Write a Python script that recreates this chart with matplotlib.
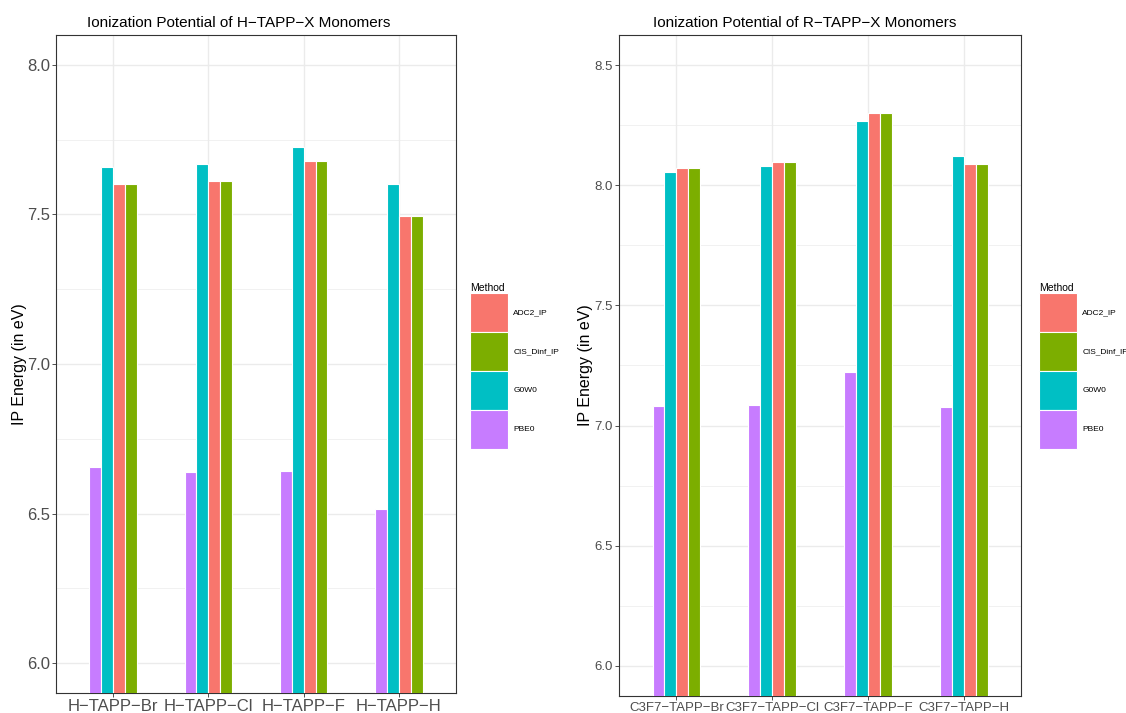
import numpy as np
import matplotlib.pyplot as plt
from matplotlib.patches import Patch
from matplotlib.ticker import MultipleLocator

plt.rcParams['font.family'] = ['Liberation Sans', 'DejaVu Sans']

methods = ['PBE0', 'G0W0', 'ADC2_IP', 'CIS_Dinf_IP']
legend_order = ['ADC2_IP', 'CIS_Dinf_IP', 'G0W0', 'PBE0']
colors = {'ADC2_IP': '#F8766D', 'CIS_Dinf_IP': '#7CAE00', 'G0W0': '#00BFC4', 'PBE0': '#C77CFF'}

# H-TAPP-X panel
h_cats = ['H\u2212TAPP\u2212Br', 'H\u2212TAPP\u2212Cl', 'H\u2212TAPP\u2212F', 'H\u2212TAPP\u2212H']
h_pbe0 = [6.656, 6.639, 6.642, 6.515]
h_g0w0 = [7.659, 7.669, 7.727, 7.603]
h_adc2 = [7.603, 7.612, 7.679, 7.495]
h_cis = [7.603, 7.612, 7.679, 7.495]

# R-TAPP-X panel
r_cats = ['C3F7\u2212TAPP\u2212Br', 'C3F7\u2212TAPP\u2212Cl', 'C3F7\u2212TAPP\u2212F', 'C3F7\u2212TAPP\u2212H']
r_pbe0 = [7.082, 7.086, 7.223, 7.077]
r_g0w0 = [8.056, 8.080, 8.267, 8.121]
r_adc2 = [8.072, 8.097, 8.300, 8.088]
r_cis = [8.072, 8.097, 8.300, 8.088]

fig = plt.figure(figsize=(11.26, 7.13), dpi=100)
W, H = 1126, 713


def panel(rect, cats, series, ylim, ticks_fs, title, title_x, ylab_x, leg_x):
    ax = fig.add_axes(rect)
    x = np.arange(1, len(cats) + 1)
    bw = 0.125
    for i, (m, vals) in enumerate(zip(methods, series)):
        ax.bar(x + (i - 1.5) * bw, vals, width=bw, color=colors[m],
               edgecolor='white', linewidth=0.8, zorder=3)
    lo, hi = ylim
    pad = (hi - lo) * 0.05
    ax.set_ylim(lo - pad, hi + pad)
    ax.set_xlim(0.4, len(cats) + 0.6)
    ax.set_xticks(x)
    ax.set_xticklabels(cats)
    ax.yaxis.set_major_locator(MultipleLocator(0.5))
    ax.yaxis.set_minor_locator(MultipleLocator(0.25))
    ax.yaxis.set_major_formatter(plt.FormatStrFormatter('%.1f'))
    ax.grid(which='major', color='#EBEBEB', linewidth=1.0, zorder=0)
    ax.grid(which='minor', axis='y', color='#EBEBEB', linewidth=0.5, zorder=0)
    ax.set_axisbelow(True)
    ax.tick_params(axis='both', which='major', labelsize=ticks_fs, colors='#333333',
                   labelcolor='#4D4D4D', length=3, width=0.6, pad=1.5)
    ax.tick_params(axis='y', which='minor', length=0)
    for s in ax.spines.values():
        s.set_color('#333333')
        s.set_linewidth(0.8)
    ax.set_ylabel('IP Energy (in eV)', fontsize=11.5)
    ax.yaxis.set_label_coords(ylab_x, 0.5)
    ax.set_title(title, fontsize=11, pad=6, x=title_x)
    handles = [Patch(facecolor=colors[m], edgecolor='white', linewidth=0.8, label=m)
               for m in legend_order]
    fig.legend(handles=handles, title='Method', loc='upper left',
               bbox_to_anchor=(leg_x / W, 1 - 283 / H), frameon=False,
               fontsize=6, title_fontsize=7.5, handlelength=4.6, handleheight=6.8,
               labelspacing=0.0, handletextpad=0.6, borderpad=0, borderaxespad=0,
               alignment='left')
    return ax


panel([56 / W, 1 - 693 / H, (456 - 56) / W, (693 - 35) / H], h_cats,
      [h_pbe0, h_g0w0, h_adc2, h_cis], (6.0, 8.0), 12,
      'Ionization Potential of H\u2212TAPP\u2212X Monomers', 0.4575, -0.0725, 470)
panel([619 / W, 1 - 696 / H, (1021 - 619) / W, (696 - 35) / H], r_cats,
      [r_pbe0, r_g0w0, r_adc2, r_cis], (6.0, 8.5), 9.5,
      'Ionization Potential of R\u2212TAPP\u2212X Monomers', 0.4627, -0.065, 1039)

fig.savefig('out.png', dpi=100)
